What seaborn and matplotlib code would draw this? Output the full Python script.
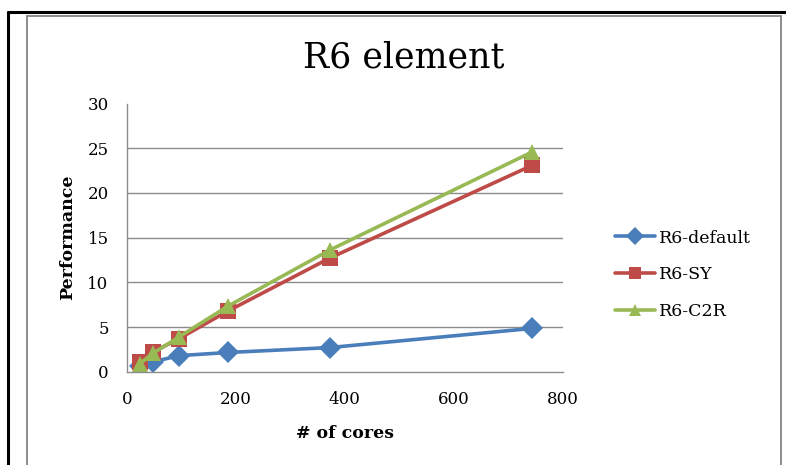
import matplotlib
matplotlib.use("Agg")
import matplotlib.pyplot as plt
from matplotlib.lines import Line2D
import seaborn as sns
import pandas as pd

cores = [24, 48, 96, 186, 372, 744]
r6_default = [0.6, 1.1, 1.8, 2.15, 2.7, 4.85]
r6_sy = [1.1, 2.2, 3.7, 6.8, 12.7, 23.1]
r6_c2r = [0.9, 2.05, 3.9, 7.35, 13.6, 24.6]
series_names = ["R6-default", "R6-SY", "R6-C2R"]
y_ticks = [0, 5, 10, 15, 20, 25, 30]
x_ticks = [0, 200, 400, 600, 800]

rows = []
for name, vals in zip(series_names, [r6_default, r6_sy, r6_c2r]):
    for c, v in zip(cores, vals):
        rows.append({"cores": c, "perf": v, "series": name})
df = pd.DataFrame(rows)

sns.set_style("white")
plt.rcParams["font.family"] = ["DejaVu Serif"]
plt.rcParams["text.color"] = "black"
plt.rcParams["axes.labelcolor"] = "black"
plt.rcParams["xtick.color"] = "black"
plt.rcParams["ytick.color"] = "black"

fig = plt.figure(figsize=(7.86, 4.65), dpi=100)
ax = fig.add_axes([0.1612, 0.2006, 0.7163 - 0.1612, 0.7774 - 0.2006])

palette = {"R6-default": "#4A7EBB", "R6-SY": "#BE4B48", "R6-C2R": "#98B954"}
markers = {"R6-default": "D", "R6-SY": "s", "R6-C2R": "^"}

for yt in y_ticks[1:-1]:
    ax.axhline(yt, color="#8c8c8c", lw=1.0, zorder=0)

sns.lineplot(data=df, x="cores", y="perf", hue="series", style="series",
             palette=palette, markers=markers, dashes=False, linewidth=2.6,
             markersize=11, markeredgewidth=0, ax=ax, legend=False)

ax.set_xlim(0, 800)
ax.set_ylim(0, 30)
ax.set_xticks(x_ticks)
ax.set_yticks(y_ticks)
ax.tick_params(axis="x", labelsize=12, length=0, pad=14, labelcolor="black")
ax.tick_params(axis="y", labelsize=12, length=0, pad=13, labelcolor="black")
for s in ["top", "right"]:
    ax.spines[s].set_visible(False)
for s in ["left", "bottom"]:
    ax.spines[s].set_color("#8c8c8c")
    ax.spines[s].set_linewidth(1.0)
ax.set_xlabel("# of cores", fontsize=12.5, fontweight="bold", labelpad=12, color="black")
ax.set_ylabel("Performance", fontsize=12.5, fontweight="bold", labelpad=8, color="black")
fig.text(404 / 786, 1 - 58 / 465, "R6 element", fontsize=25, ha="center", va="center",
         color="black")

handles = [Line2D([0], [0], color=palette[n], marker=markers[n], lw=2.6,
                  markersize=9, markeredgewidth=0) for n in series_names]
leg = fig.legend(handles, series_names, loc="upper left", bbox_to_anchor=(0.763, 0.54),
                 frameon=False, fontsize=12.5, handlelength=2.3, handletextpad=0.2,
                 labelspacing=1.15)
for t in leg.get_texts():
    t.set_color("black")

# outer frames
fig.add_artist(Line2D([0.0105, 1.0], [1 - 12.5 / 465] * 2, color="black", lw=2.2,
                      transform=fig.transFigure))
fig.add_artist(Line2D([0.0105, 0.0105], [0, 1 - 12.5 / 465], color="black", lw=2.2,
                      transform=fig.transFigure))
gx0, gx1, gy = 27 / 786, 781 / 786, 1 - 16.5 / 465
fig.add_artist(Line2D([gx0, gx1], [gy, gy], color="#8c8c8c", lw=1.4,
                      transform=fig.transFigure))
fig.add_artist(Line2D([gx0, gx0], [0, gy], color="#8c8c8c", lw=1.4,
                      transform=fig.transFigure))
fig.add_artist(Line2D([gx1, gx1], [0, gy], color="#8c8c8c", lw=1.4,
                      transform=fig.transFigure))

fig.savefig("out.png", dpi=100)
